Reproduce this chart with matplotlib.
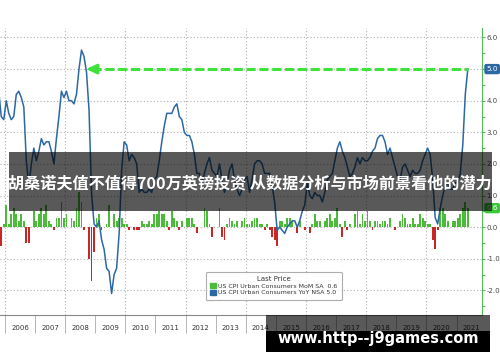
import numpy as np
import matplotlib.pyplot as plt
from matplotlib.patches import Rectangle, Patch

# monthly data, Oct 2005 .. May 2021
start_year, start_month = 2005, 10

yoy = [4.3, 3.5, 3.4,
       4.0, 3.6, 3.4, 3.5, 4.2, 4.3, 4.1, 3.8, 2.1, 1.3, 2.0, 2.5,
       2.1, 2.4, 2.8, 2.6, 2.7, 2.7, 2.4, 2.0, 2.8, 3.5, 4.3, 4.1,
       4.3, 4.0, 4.0, 3.9, 4.2, 5.0, 5.6, 5.4, 4.9, 3.7, 1.1, 0.1,
       0.0, 0.2, -0.4, -0.7, -1.3, -1.4, -2.1, -1.5, -1.3, -0.2, 1.8, 2.7,
       2.6, 2.1, 2.3, 2.2, 2.0, 1.1, 1.2, 1.1, 1.1, 1.2, 1.1, 1.5,
       1.6, 2.1, 2.7, 3.2, 3.6, 3.6, 3.6, 3.8, 3.9, 3.5, 3.4, 3.0,
       2.9, 2.9, 2.7, 2.3, 1.7, 1.7, 1.4, 1.7, 2.0, 2.2, 1.8, 1.7,
       1.6, 2.0, 1.5, 1.1, 1.4, 1.8, 2.0, 1.5, 1.2, 1.0, 1.2, 1.5,
       1.6, 1.1, 1.5, 2.0, 2.1, 2.1, 2.0, 1.7, 1.7, 1.7, 1.3, 0.8,
       -0.1, 0.0, -0.1, -0.2, 0.0, 0.1, 0.2, 0.2, 0.0, 0.2, 0.5, 0.7,
       1.4, 1.0, 0.9, 1.1, 1.0, 1.0, 0.8, 1.1, 1.5, 1.6, 1.7, 2.1,
       2.5, 2.7, 2.4, 2.2, 1.9, 1.6, 1.7, 1.9, 2.2, 2.0, 2.2, 2.1,
       2.1, 2.2, 2.4, 2.5, 2.8, 2.9, 2.9, 2.7, 2.3, 2.5, 2.2, 1.9,
       1.6, 1.5, 1.9, 2.0, 1.8, 1.6, 1.8, 1.7, 1.7, 1.8, 2.1, 2.3,
       2.5, 2.3, 1.5, 0.3, 0.1, 0.6, 1.0, 1.3, 1.4, 1.2, 1.2, 1.4,
       1.4, 1.7, 2.6, 4.2, 5.0]

mom = [0.2, -0.6, 0.1,
       0.7, 0.1, 0.4, 0.6, 0.4, 0.2, 0.4, 0.2, -0.5, -0.5, 0.0, 0.5,
       0.2, 0.4, 0.6, 0.4, 0.7, 0.2, 0.1, -0.1, 0.3, 0.3, 0.8, 0.3,
       0.4, 0.0, 0.3, 0.2, 0.6, 1.1, 0.8, -0.1, 0.0, -1.0, -1.7, -0.8,
       0.3, 0.4, -0.1, 0.0, 0.1, 0.7, 0.0, 0.4, 0.2, 0.3, 0.3, 0.1,
       0.1, -0.1, 0.0, -0.1, -0.1, -0.1, 0.2, 0.1, 0.1, 0.2, 0.1, 0.4,
       0.4, 0.5, 0.4, 0.4, 0.2, -0.1, 0.5, 0.3, 0.2, -0.1, 0.2, 0.0,
       0.3, 0.3, 0.3, 0.1, -0.2, 0.0, 0.0, 0.6, 0.5, 0.1, -0.3, 0.0,
       0.0, 0.6, -0.3, -0.4, 0.1, 0.3, 0.2, 0.1, 0.2, 0.0, 0.2, 0.3,
       0.1, 0.1, 0.2, 0.3, 0.3, 0.1, 0.1, -0.1, 0.1, -0.1, -0.3, -0.4,
       -0.6, 0.2, 0.2, 0.1, 0.3, 0.3, 0.2, 0.0, -0.2, 0.2, 0.0, -0.1,
       0.0, -0.2, 0.1, 0.4, 0.2, 0.2, 0.0, 0.2, 0.3, 0.4, 0.2, 0.3,
       0.6, 0.1, -0.3, 0.2, -0.1, 0.1, 0.0, 0.4, 0.5, 0.1, 0.4, 0.2,
       0.5, 0.2, -0.1, 0.2, 0.2, 0.1, 0.2, 0.2, 0.1, 0.3, 0.0, -0.1,
       0.0, 0.2, 0.4, 0.3, 0.1, 0.1, 0.3, 0.1, 0.1, 0.4, 0.3, 0.2,
       0.1, 0.1, -0.4, -0.7, -0.1, 0.6, 0.6, 0.4, 0.2, 0.0, 0.2, 0.2,
       0.3, 0.4, 0.6, 0.8, 0.6]

years = list(range(2006, 2022))
yticks = [-2, -1, 0, 1, 2, 3, 4, 5, 6]

mom_name = 'US CPI Urban Consumers MoM SA'
yoy_name = 'US CPI Urban Consumers YoY NSA'
title = '胡桑诺夫值不值得700万英镑投资 从数据分析与市场前景看他的潜力'
watermark = 'www.http--j9games.com'

GREEN = '#4cbb3a'
RED = '#c92626'
BLUE = '#2c68a3'
ARROW = '#3fe23a'
AXGREEN = '#55b955'

yoy = np.array(yoy)
mom = np.array(mom)
dates = start_year + (start_month - 1 + np.arange(len(yoy)) + 0.5) / 12

fig = plt.figure(figsize=(5, 3.62), dpi=100)
ax = fig.add_axes([0, 47 / 362, 482 / 500, 287 / 362])

ax.bar(dates, mom, width=0.06, color=np.where(mom >= 0, GREEN, RED), zorder=2)
ax.plot(dates, yoy, color=BLUE, lw=1.1, zorder=3)

# arrow from the latest reading back to where it was last this high
last = yoy[-1]
i = np.where(yoy[:-12] >= last)[0][-1]
cross = dates[i] + (yoy[i] - last) / (yoy[i] - yoy[i + 1]) * (dates[i + 1] - dates[i])
ax.plot([cross + 0.2, dates[-1]], [last, last], color=ARROW, lw=2.2,
        linestyle=(0, (3, 1.2)), solid_capstyle='butt', zorder=4)
ax.annotate('', xy=(cross, last), xytext=(cross + 0.32, last),
            arrowprops=dict(arrowstyle='-|>,head_length=0.6,head_width=0.28',
                            color=ARROW, lw=2.2, shrinkA=0, shrinkB=0), zorder=4)

ax.set_xlim(2005.834, 2021.847)
ax.set_ylim(-2.78, 6.3)

ax.yaxis.tick_right()
ax.set_yticks(yticks)
ax.set_yticklabels([f'{v:.1f}' for v in yticks])
ax.set_yticks(np.arange(-2.5, 6.5, 0.5), minor=True)
ax.tick_params(axis='y', which='both', colors=AXGREEN, labelcolor='#444444',
               labelsize=5, length=2.5, pad=0.8, width=0.8)
ax.tick_params(axis='y', which='minor', length=1.8)

ax.set_xticks([y + 0.5 for y in years])
ax.set_xticklabels([str(y) for y in years])
ax.set_xticks(years, minor=True)
ax.tick_params(axis='x', which='major', length=0, pad=7, labelsize=5, labelcolor='#333333')
ax.tick_params(axis='x', which='minor', length=13, width=0.6, color='#aaaaaa')

for s in ['left', 'top']:
    ax.spines[s].set_visible(False)
ax.spines['right'].set_color(AXGREEN)
ax.spines['bottom'].set_color('#888888')
ax.spines['bottom'].set_linewidth(0.8)

ax.grid(axis='y', which='major', color='#b0b0b0', linestyle=(0, (1, 2)), lw=0.8)
for y in years[::2]:
    ax.axvline(y, color='#b0b0b0', linestyle=(0, (1, 2)), lw=0.8, zorder=1)

# value tags on the right axis
ax.annotate(f'{yoy[-1]:.1f}', xy=(1, yoy[-1]), xycoords=('axes fraction', 'data'),
            xytext=(3.2, 0), textcoords='offset points', va='center', ha='left',
            fontsize=5.2, color='white', annotation_clip=False,
            bbox=dict(boxstyle='round,pad=0.3', fc=BLUE, ec='none'))
ax.annotate(f'{mom[-1]:.1f}', xy=(1, mom[-1]), xycoords=('axes fraction', 'data'),
            xytext=(3.2, 0), textcoords='offset points', va='center', ha='left',
            fontsize=5.2, color='white', annotation_clip=False,
            bbox=dict(boxstyle='round,pad=0.3', fc='#3cc63c', ec='none'))

handles = [Patch(color=GREEN), Patch(color=BLUE)]
labels = [f'{mom_name}  {mom[-1]:.1f}', f'{yoy_name} {yoy[-1]:.1f}']
leg = ax.legend(handles, labels, title='Last Price', fontsize=4.5, title_fontsize=5,
                loc='lower left', bbox_to_anchor=(0.421, 0.042), frameon=True,
                edgecolor='#999999', fancybox=True, handlelength=0.9, handleheight=0.9,
                handletextpad=0.3, borderpad=0.7, labelspacing=0.15)
leg.get_frame().set_linewidth(0.8)
for t in leg.get_texts():
    t.set_color('#333333')
leg.get_title().set_color('#333333')

# overlays
fig.add_artist(Rectangle((9 / 500, (362 - 211) / 362), 483 / 500, 59 / 362,
                         transform=fig.transFigure, facecolor='black', alpha=0.65,
                         edgecolor='none', zorder=10))
fig.text(0.5, (362 - 183.5) / 362, title, ha='center', va='center', color='white',
         fontsize=11.6, fontweight='bold', family=['Noto Sans CJK SC', 'DejaVu Sans'],
         zorder=11)

fig.add_artist(Rectangle((266 / 500, 10 / 362), 224 / 500, 37 / 362,
                         transform=fig.transFigure, facecolor='black', alpha=0.65,
                         edgecolor='none', zorder=10))
fig.add_artist(Rectangle((266 / 500, 10 / 362), 224 / 500, 21 / 362,
                         transform=fig.transFigure, facecolor='black',
                         edgecolor='none', zorder=10))
fig.text(378 / 500, (362 - 338) / 362, watermark, ha='center', va='center',
         color='white', fontsize=10.5, fontweight='bold', zorder=11)

fig.savefig('out.png', dpi=100)
